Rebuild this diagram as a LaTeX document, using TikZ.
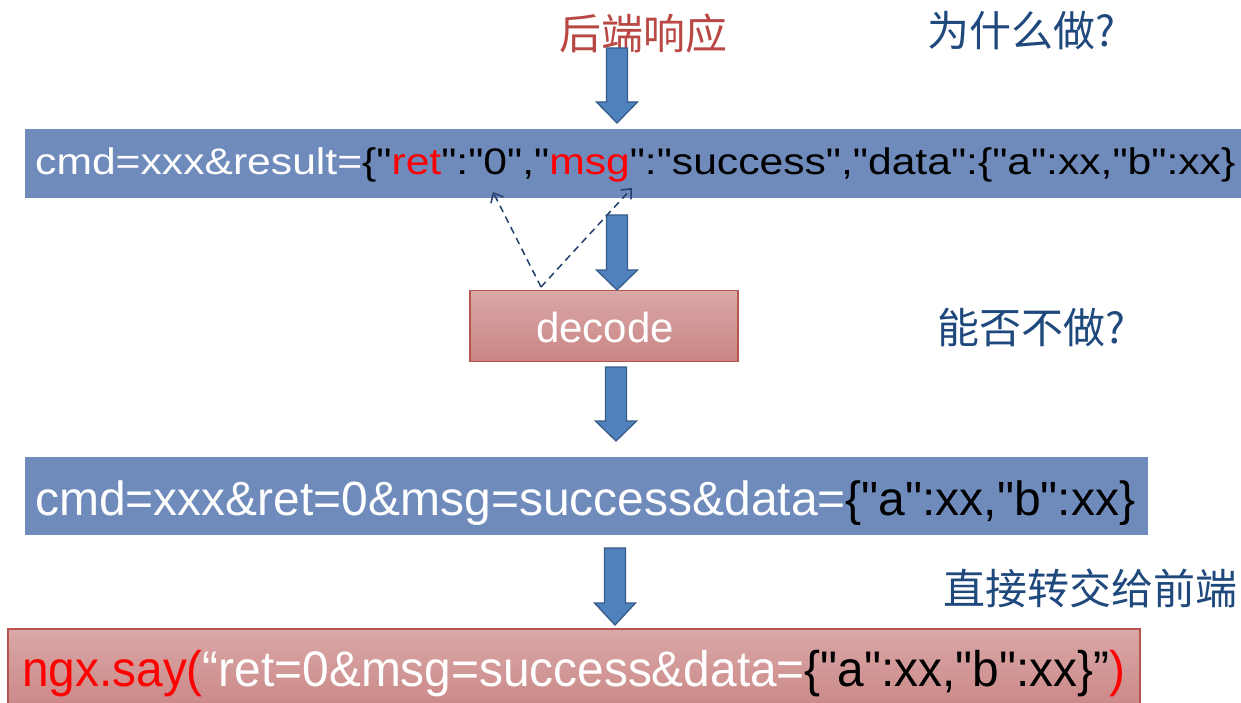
\documentclass[tikz,border=0pt]{standalone}
\usepackage{fontspec}
\usepackage{graphicx}
\setmainfont{Liberation Sans}[Ligatures=TeXOff]
\newfontfamily\cjk{Noto Sans CJK SC}
\usetikzlibrary{arrows.meta}
\definecolor{boxblue}{RGB}{111,139,187}
\definecolor{pinktop}{RGB}{217,168,167}
\definecolor{pinkbot}{RGB}{201,133,132}
\definecolor{pinkborder}{RGB}{184,84,80}
\definecolor{titlered}{RGB}{185,72,68}
\definecolor{noteblue}{RGB}{31,73,125}
\definecolor{arrowfill}{RGB}{79,129,189}
\definecolor{arrowdraw}{RGB}{56,93,138}
\definecolor{dashblue}{RGB}{36,62,108}
\newcommand\blkarrow[4]{%
  \draw[blockarrow] (#1-10.5,#2) -- (#1+10.5,#2) -- (#1+10.5,#3) -- (#1+20.5,#3)
    -- (#1,#4) -- (#1-20.5,#3) -- (#1-10.5,#3) -- cycle;}
\begin{document}
\begin{tikzpicture}[x=1pt,y=-1pt,
  bluebox/.style={fill=boxblue, draw=none, inner sep=0pt, outer sep=0pt},
  pinkbox/.style={top color=pinktop, bottom color=pinkbot, draw=pinkborder, line width=1.2pt, inner sep=0pt, outer sep=0pt},
  blockarrow/.style={fill=arrowfill, draw=arrowdraw, line width=1.3pt, line join=miter},
  linetext/.style={anchor=base west, inner sep=0pt, text=white},
  cjktitle/.style={inner sep=0pt, font=\cjk\fontsize{42}{46}\selectfont},
  dasharrow/.style={dash pattern=on 7pt off 5pt, line width=1.5pt, draw=dashblue, -{Straight Barb[length=8pt,width=14pt,line width=1.5pt]}}
]
\useasboundingbox (0,0) rectangle (1241,703);
\fill[white] (0,0) rectangle (1241,703);

% titles and notes
\node[cjktitle, text=titlered] (resp) at (643,34) {后端响应};
\node[cjktitle, text=noteblue] (why) at (1021,31) {为什么做?};
\node[cjktitle, text=noteblue] (whynot) at (1031,328) {能否不做?};
\node[cjktitle, text=noteblue] (forward) at (1090,588) {直接转交给前端};

% box 1
\path[bluebox] (25,129) rectangle (1245,198);
\node[inner sep=0pt] (box1) at (635,163.5) {};
\node[linetext] (t1) at (35,175) {\fontsize{37}{40}\selectfont\resizebox{1200pt}{\height}{cmd=xxx\&result=\textcolor{black}{\{"}\textcolor{red}{ret}\textcolor{black}{":"0","}\textcolor{red}{msg}\textcolor{black}{":"success","data":\{"a":xx,"b":xx\}}}};

% decode box
\node[pinkbox, minimum width=268pt, minimum height=71pt] (decode) at (604,326) {};
\node[linetext] (dtext) at (536,342) {\fontsize{42}{46}\selectfont decode};

% box 2
\node[bluebox, minimum width=1123pt, minimum height=78pt] (box2) at (586.5,496) {};
\node[linetext] (t2) at (35,515) {\fontsize{48}{52}\selectfont\resizebox{1100pt}{\height}{cmd=xxx\&ret=0\&msg=success\&data=\textcolor{black}{\{"a":xx,"b":xx\}}}};

% box 3
\node[pinkbox, minimum width=1132pt, minimum height=86pt] (box3) at (574,672) {};
\node[linetext] (t3) at (22,686) {\fontsize{50}{54}\selectfont\resizebox{1103pt}{\height}{\textcolor{red}{ngx.say(}“ret=0\&msg=success\&data=\textcolor{black}{\{"a":xx,"b":xx\}”}\textcolor{red}{)}}};

% block arrows
\blkarrow{617}{48}{102}{123}
\blkarrow{617}{215}{270}{290}
\blkarrow{616}{367}{421}{441}
\blkarrow{615}{548}{603}{625}

% dashed arrows from decode to fields
\coordinate (src) at (541,287);
\coordinate (retpos) at (493,192);
\coordinate (msgpos) at (632,188);
\draw[dasharrow] (src) -- (retpos);
\draw[dasharrow] (src) -- (msgpos);
\end{tikzpicture}
\end{document}
